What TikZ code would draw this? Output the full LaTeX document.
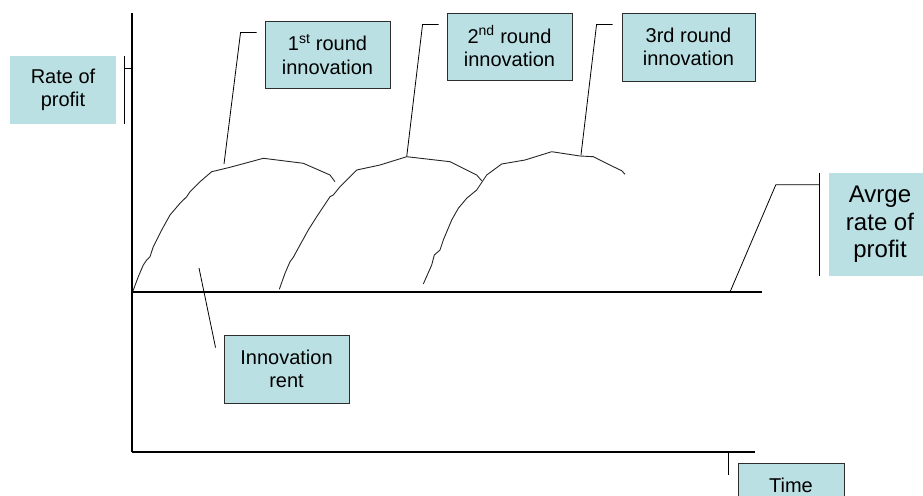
\documentclass[tikz,border=0pt]{standalone}
\usepackage{fontspec}
\setmainfont{Liberation Sans}
\definecolor{boxfill}{RGB}{187,224,227}
\definecolor{boxedge}{RGB}{45,45,45}
\begin{document}
\begin{tikzpicture}[x=1pt,y=-1pt,
  lbl/.style={fill=boxfill, inner sep=0pt, align=center,
              font=\fontsize{20}{23.5}\selectfont},
  edged/.style={lbl, draw=boxedge, line width=0.9pt},
  bigtext/.style={font=\fontsize{24}{27.5}\selectfont},
  curve/.style={line width=0.9pt, black!85, line join=round},
  lead/.style={line width=0.8pt, black},
  bar/.style={line width=1.3pt, black},
  axis/.style={line width=1.4pt, black}]
\useasboundingbox (0,0) rectangle (923,495);
\begin{scope}
\clip (0,0) rectangle (923,495);

% axes and the average-profit level
\coordinate (origin) at (132,452);
\coordinate (ytop) at (132,13);
\coordinate (xend) at (755,452);
\coordinate (avgL) at (132,292);
\coordinate (avgR) at (762,292);
\draw[axis] (ytop) -- (origin);
\draw[line width=2pt] (origin) -- (xend);
\draw[bar] (avgL) -- (avgR);

% profit curves of the three innovation rounds
\draw[curve] (132.7,291.7) -- (138.3,276.7) -- (143.3,265) -- (146.7,260)
  -- (150,256.7) -- (153.3,246.7) -- (161.7,230) -- (170,215) -- (180,203.3)
  -- (186.7,196.7) -- (190,191.7) -- (200,181.7) -- (211.7,171.7)
  -- (230,167.3) -- (263.3,158.3) -- (303.3,163.3) -- (330,175) -- (335,181.7);
\draw[curve] (279.3,289.3) -- (285,273.3) -- (290,261.7) -- (293.3,257.3)
  -- (300,245) -- (308.3,230) -- (316.7,216.7) -- (330,196.7) -- (333.3,195)
  -- (340,186.7) -- (356.7,170) -- (380,165) -- (406.7,156.7) -- (450,161.7)
  -- (476.7,175) -- (481.7,180.7);
\draw[curve] (423.3,284) -- (431.7,265) -- (434.3,255) -- (440,250)
  -- (443.3,240) -- (451.7,220) -- (458.3,208.3) -- (466.7,198.3)
  -- (476.7,190) -- (486.7,175) -- (501.7,164) -- (525,160) -- (551.7,151.7)
  -- (580,156) -- (593.3,156.7) -- (613.3,166.7) -- (621.7,170.7) -- (625,174.3);

% points the callouts point at
\coordinate (p1) at (224,164);
\coordinate (p2) at (406.7,156.7);
\coordinate (p3) at (581,155);
\coordinate (pavg) at (730,292);
\coordinate (prent) at (199,268);

% labels
\node[lbl, minimum width=106pt, minimum height=68pt] (rate) at (63,90)
  {Rate of\\profit};
\node[edged, minimum width=125pt, minimum height=67pt] (r1) at (327.5,54.5)
  {1\textsuperscript{st} round\\innovation};
\node[edged, minimum width=125pt, minimum height=67pt] (r2) at (509.5,46.5)
  {2\textsuperscript{nd} round\\innovation};
\node[edged, minimum width=133pt, minimum height=68pt] (r3) at (688.5,47)
  {3rd round\\innovation};
\node[lbl, bigtext, minimum width=102pt, minimum height=103pt] (avg) at (880,224.5)
  {Avrge\\rate of\\profit};
\node[edged, minimum width=125pt, minimum height=68pt] (rent) at (286.5,369)
  {Innovation\\rent};
\node[edged, minimum width=106pt, minimum height=44pt] (time) at (791,485)
  {Time};

% callout leaders
\draw[bar] ([xshift=8pt]rate.north east) -- ([xshift=8pt]rate.south east);
\draw[bar] ([xshift=8pt,yshift=-13pt]rate.north east) -- ++(8,0);
\draw[lead] ([xshift=-8pt,yshift=-12pt]r1.north west) -- ++(-16,0) -- (p1);
\draw[lead] ([xshift=-8pt,yshift=-12pt]r2.north west) -- ++(-16,0) -- (p2);
\draw[lead] ([xshift=-9pt,yshift=-12pt]r3.north west) -- ++(-16,0) -- (p3);
\draw[bar] ([xshift=-9pt]avg.north west) -- ([xshift=-9pt]avg.south west);
\draw[lead] ([xshift=-9pt,yshift=-12pt]avg.north west) -- ++(-44,0) -- (pavg);
\draw[lead] ([xshift=-8pt,yshift=-13pt]rent.north west) -- (prent);
\draw[bar] ([xshift=-9pt,yshift=11pt]time.north west) -- ([xshift=-9pt,yshift=-12pt]time.north west);
\end{scope}
\end{tikzpicture}
\end{document}
